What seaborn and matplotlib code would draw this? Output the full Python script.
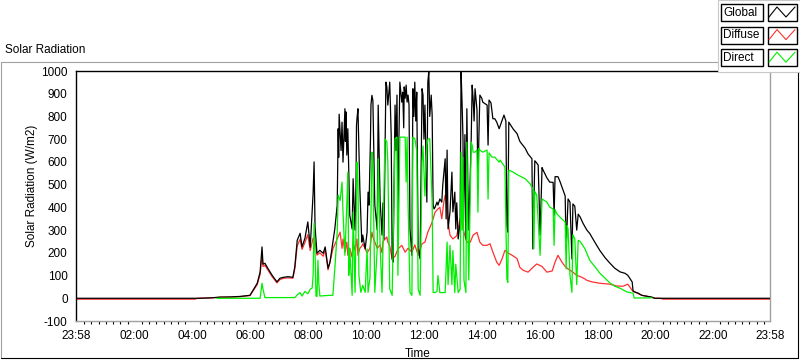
import matplotlib
matplotlib.use('Agg')
import matplotlib.pyplot as plt
import seaborn as sns
import pandas as pd
from matplotlib.patches import Rectangle
from matplotlib.lines import Line2D

sns.set_theme(style='white')
plt.rcParams['font.family'] = ['Liberation Sans', 'DejaVu Sans']

# ---- data (time in minutes after midnight; -2 = 23:58 of previous day) ----
global_t = [-2, 255, 280, 297, 318, 338, 359, 374, 380, 384, 386, 390, 396, 405, 415, 421, 428, 438, 448, 452,
            457, 463, 467, 473, 479, 484, 490, 492, 494, 498, 504, 511, 515, 521, 525, 531, 535, 540, 542, 543,
            544, 546, 548, 550, 552, 556, 557, 558, 560, 562, 566, 571, 573, 577, 579, 580, 581, 583, 587, 591,
            593, 598, 602, 604, 606, 609, 610, 612, 614, 618, 623, 625, 629, 633, 635, 637, 641, 643, 645, 649,
            652, 654, 656, 660, 662, 664, 666, 668, 670, 674, 676, 678, 679, 681, 683, 685, 687, 689, 691, 695,
            697, 699, 701, 703, 705, 708, 712, 716, 718, 720, 722, 726, 728, 730, 732, 735, 737, 739, 741, 743,
            747, 749, 753, 757, 759, 764, 766, 768, 770, 774, 778, 780, 784, 786, 788, 791, 795, 797, 799, 801,
            802, 805, 807, 809, 811, 813, 818, 820, 822, 824, 826, 830, 832, 834, 836, 840, 842, 851, 853, 855,
            859, 863, 867, 871, 876, 886, 890, 892, 894, 896, 905, 913, 919, 930, 936, 944, 946, 950, 954, 957,
            961, 965, 967, 975, 981, 988, 990, 992, 998, 1002, 1008, 1013, 1015, 1019, 1023, 1027, 1029, 1033, 1037, 1040,
            1044, 1050, 1058, 1064, 1075, 1085, 1096, 1106, 1116, 1127, 1137, 1143, 1152, 1154, 1164, 1172, 1183, 1193, 1199, 1438]
global_v = [0, 0, 2, 5, 6, 8, 13, 66, 115, 226, 150, 154, 132, 101, 72, 88, 92, 95, 92, 138,
            255, 286, 226, 264, 336, 225, 462, 600, 314, 198, 211, 198, 226, 132, 159, 248, 305, 410, 746, 620,
            810, 731, 650, 775, 599, 834, 690, 820, 630, 746, 366, 305, 526, 300, 500, 760, 790, 834, 481, 247,
            278, 217, 291, 467, 410, 700, 850, 893, 870, 410, 300, 850, 430, 278, 420, 261, 951, 930, 850, 951,
            718, 173, 159, 850, 650, 894, 379, 700, 951, 863, 907, 750, 930, 880, 938, 863, 894, 850, 305, 189,
            922, 800, 951, 780, 907, 217, 173, 922, 894, 700, 850, 423, 951, 996, 800, 894, 806, 410, 393, 400,
            423, 410, 437, 423, 498, 614, 349, 652, 305, 379, 555, 380, 467, 305, 420, 261, 335, 996, 863, 702,
            335, 720, 261, 834, 511, 300, 700, 938, 878, 780, 922, 830, 481, 718, 894, 880, 863, 850, 674, 872,
            860, 790, 790, 775, 746, 806, 780, 322, 291, 775, 745, 725, 690, 660, 635, 614, 217, 605, 595, 586,
            278, 575, 565, 530, 511, 510, 366, 535, 535, 515, 480, 450, 217, 437, 423, 173, 415, 405, 300, 370,
            358, 330, 300, 285, 245, 210, 178, 154, 132, 116, 110, 101, 72, 30, 23, 13, 9, 5, 0, 0]

diffuse_t = [-2, 245, 250, 280, 297, 318, 338, 359, 374, 380, 384, 386, 390, 396, 405, 415, 421, 428, 438, 448,
             452, 457, 463, 467, 473, 479, 484, 490, 494, 498, 504, 511, 515, 521, 525, 531, 540, 546, 550, 552,
             556, 560, 562, 566, 571, 573, 577, 581, 583, 587, 591, 593, 602, 608, 612, 614, 623, 629, 633, 635,
             643, 645, 649, 654, 660, 666, 674, 681, 687, 695, 701, 708, 716, 722, 728, 737, 743, 749, 753, 757,
             761, 764, 768, 770, 774, 780, 788, 795, 799, 801, 809, 816, 822, 830, 836, 842, 851, 857, 863, 871,
             876, 882, 888, 894, 903, 913, 919, 926, 936, 946, 954, 965, 975, 986, 992, 998, 1006, 1013, 1019, 1029,
             1037, 1048, 1054, 1058, 1069, 1085, 1106, 1120, 1133, 1143, 1152, 1162, 1172, 1189, 1199, 1210, 1216, 1438]
diffuse_v = [-4, -4, 0, 2, 5, 5, 7, 12, 60, 105, 190, 140, 145, 125, 95, 68, 82, 88, 90, 88,
             130, 230, 260, 215, 245, 280, 210, 265, 250, 190, 200, 185, 215, 125, 159, 217, 261, 291, 220, 261,
             203, 247, 189, 220, 180, 247, 210, 261, 189, 220, 230, 240, 200, 220, 291, 270, 220, 235, 200, 250,
             270, 247, 230, 173, 185, 217, 233, 203, 220, 203, 235, 189, 240, 247, 291, 335, 379, 393, 400, 350,
             420, 454, 420, 335, 278, 261, 275, 349, 335, 305, 247, 247, 278, 290, 247, 233, 233, 240, 203, 159,
             145, 173, 211, 200, 189, 175, 136, 123, 115, 136, 151, 140, 115, 120, 159, 189, 160, 140, 129, 115,
             101, 92, 85, 79, 72, 66, 62, 54, 53, 62, 35, 23, 13, 6, 0, 0, -4, -4]

direct_t = [290, 380, 384, 386, 390, 452, 457, 463, 467, 473, 479, 484, 488, 490, 492, 494, 496, 498, 500, 502,
            504, 525, 531, 535, 540, 542, 546, 550, 552, 556, 560, 562, 564, 566, 571, 573, 577, 581, 583, 585,
            589, 593, 598, 602, 604, 608, 612, 614, 618, 623, 625, 629, 633, 635, 639, 643, 645, 649, 654, 656,
            660, 664, 666, 670, 681, 683, 685, 687, 691, 695, 697, 701, 705, 708, 712, 716, 718, 722, 726, 728,
            732, 737, 739, 743, 747, 749, 753, 764, 768, 770, 774, 778, 780, 784, 786, 791, 795, 797, 799, 801,
            803, 807, 809, 811, 813, 818, 820, 822, 826, 830, 832, 834, 836, 842, 851, 853, 855, 861, 867, 876,
            878, 888, 892, 894, 896, 905, 915, 930, 940, 946, 948, 950, 954, 961, 965, 975, 981, 988, 990, 992,
            996, 1006, 1013, 1015, 1017, 1019, 1023, 1027, 1029, 1033, 1037, 1040, 1044, 1054, 1064, 1075, 1085, 1096, 1106, 1116,
            1127, 1141, 1154, 1156, 1193]
direct_v = [0, 0, 66, 40, 3, 3, 15, 25, 10, 30, 20, 40, 45, 100, 330, 200, 10, 8, 167, 60,
            10, 13, 13, 129, 291, 454, 430, 511, 380, 189, 420, 555, 101, 220, 13, 379, 26, 599, 520, 101,
            26, 57, 26, 217, 26, 90, 643, 590, 26, 217, 614, 230, 26, 230, 700, 690, 600, 41, 13, 250,
            702, 709, 101, 709, 709, 511, 709, 423, 26, 13, 709, 702, 650, 40, 13, 599, 670, 450, 670, 700,
            702, 423, 26, 25, 30, 100, 25, 25, 247, 60, 233, 60, 210, 25, 150, 25, 40, 643, 300, 620,
            80, 25, 687, 300, 80, 687, 674, 643, 643, 652, 379, 660, 652, 643, 652, 437, 640, 621, 621, 599,
            608, 577, 85, 70, 564, 555, 542, 526, 504, 481, 217, 470, 454, 189, 437, 423, 401, 393, 233, 390,
            371, 349, 335, 129, 320, 305, 101, 26, 280, 261, 60, 255, 250, 218, 167, 138, 110, 88, 67, 53,
            44, 28, 22, 1, 2]

series_names = ['Global', 'Diffuse', 'Direct']
series_colors = ['#000000', '#ff3030', '#00ee00']
tick_pos = [-2, 120, 240, 360, 480, 600, 720, 840, 960, 1080, 1200, 1320, 1438]
tick_labels = ['23:58', '02:00', '04:00', '06:00', '08:00', '10:00', '12:00', '14:00',
               '16:00', '18:00', '20:00', '22:00', '23:58']
y_ticks = [-100, 0, 100, 200, 300, 400, 500, 600, 700, 800, 900, 1000]

# ---- figure ----
W, H = 800, 361
fig = plt.figure(figsize=(W / 100, H / 100), dpi=100)
fig.patch.set_facecolor('white')


def fx(px):
    return px / W


def fy(py):
    return 1 - py / H


ax = fig.add_axes([fx(76), fy(321), fx(770) - fx(76), fy(71) - fy(321)])
ax.set_facecolor('white')

frames = {
    'Global': pd.DataFrame({'t': global_t, 'v': global_v}),
    'Diffuse': pd.DataFrame({'t': diffuse_t, 'v': diffuse_v}),
    'Direct': pd.DataFrame({'t': direct_t, 'v': direct_v}),
}
colors = dict(zip(series_names, series_colors))
# draw order: Diffuse underneath, then Global, Direct on top
for name, z in [('Diffuse', 2), ('Global', 3), ('Direct', 4)]:
    sns.lineplot(data=frames[name], x='t', y='v', ax=ax, color=colors[name], linewidth=0.9,
                 estimator=None, sort=False, legend=False, zorder=z)

ax.set_xlim(-2, 1438)
ax.set_ylim(-100, 1000)
ax.set_xticks(tick_pos)
ax.set_xticklabels(tick_labels)
ax.set_xticks([m for m in range(15, 1430, 15) if m % 120 != 0], minor=True)
ax.set_yticks(y_ticks)
ax.set_yticklabels([str(v) for v in y_ticks])
ax.set_xlabel('')
ax.set_ylabel('')
ax.grid(False)

ax.tick_params(axis='both', which='major', direction='out', length=4, width=0.8,
               color='black', labelsize=8.5, labelcolor='#000000', pad=2)
ax.tick_params(axis='x', which='minor', direction='out', length=2.5, width=0.8,
               color='black', bottom=True)
ax.tick_params(axis='x', which='major', length=4.5)

for side, col in [('left', 'black'), ('top', 'black'), ('right', '#a0a0a0'), ('bottom', '#a0a0a0')]:
    ax.spines[side].set_visible(True)
    ax.spines[side].set_color(col)
    ax.spines[side].set_linewidth(1.0)

# axis labels / title
fig.text(fx(32), fy(186), 'Solar Radiation (W/m2)', rotation=90, ha='center', va='center',
         fontsize=8.5, color='black')
fig.text(fx(418), fy(354), 'Time', ha='center', va='center', fontsize=8.5, color='black')
fig.text(fx(5), fy(50), 'Solar Radiation', ha='left', va='center', fontsize=8.5, color='black')

# outer panel frame
tf = fig.transFigure
fig.add_artist(Line2D([fx(0.5), fx(718)], [fy(62), fy(62)], transform=tf, color='#a0a0a0', lw=0.8))
fig.add_artist(Line2D([fx(0.5), fx(0.5)], [fy(62), fy(358)], transform=tf, color='#a0a0a0', lw=0.8))
fig.add_artist(Line2D([fx(0.5), fx(798)], [fy(358), fy(358)], transform=tf, color='#000000', lw=0.8))
fig.add_artist(Line2D([fx(798), fx(798)], [fy(72), fy(358)], transform=tf, color='#000000', lw=0.8))

# legend panel
fig.add_artist(Rectangle((fx(718), fy(72)), fx(800) - fx(718), fy(0) - fy(72), transform=tf,
                         facecolor='white', edgecolor='#c8c8c8', lw=0.8, zorder=5))
for i, name in enumerate(series_names):
    col = colors[name]
    top = 4 + i * 22.6
    bot = top + 17
    fig.add_artist(Rectangle((fx(720.5), fy(bot)), fx(763) - fx(720.5), fy(top) - fy(bot), transform=tf,
                             facecolor='white', edgecolor='black', lw=1.0, zorder=6))
    fig.add_artist(Rectangle((fx(767.5), fy(bot)), fx(796.5) - fx(767.5), fy(top) - fy(bot), transform=tf,
                             facecolor='white', edgecolor='black', lw=1.0, zorder=6))
    fig.text(fx(723), fy((top + bot) / 2), name, ha='left', va='center', fontsize=8.5,
             color='black', zorder=7)
    fig.add_artist(Line2D([fx(769), fx(777), fx(786), fx(795)],
                          [fy(bot - 4), fy(top + 3), fy(bot - 4), fy(top + 3)],
                          transform=tf, color=col, lw=0.8, zorder=7))

fig.savefig('out.png', dpi=100, facecolor='white')
